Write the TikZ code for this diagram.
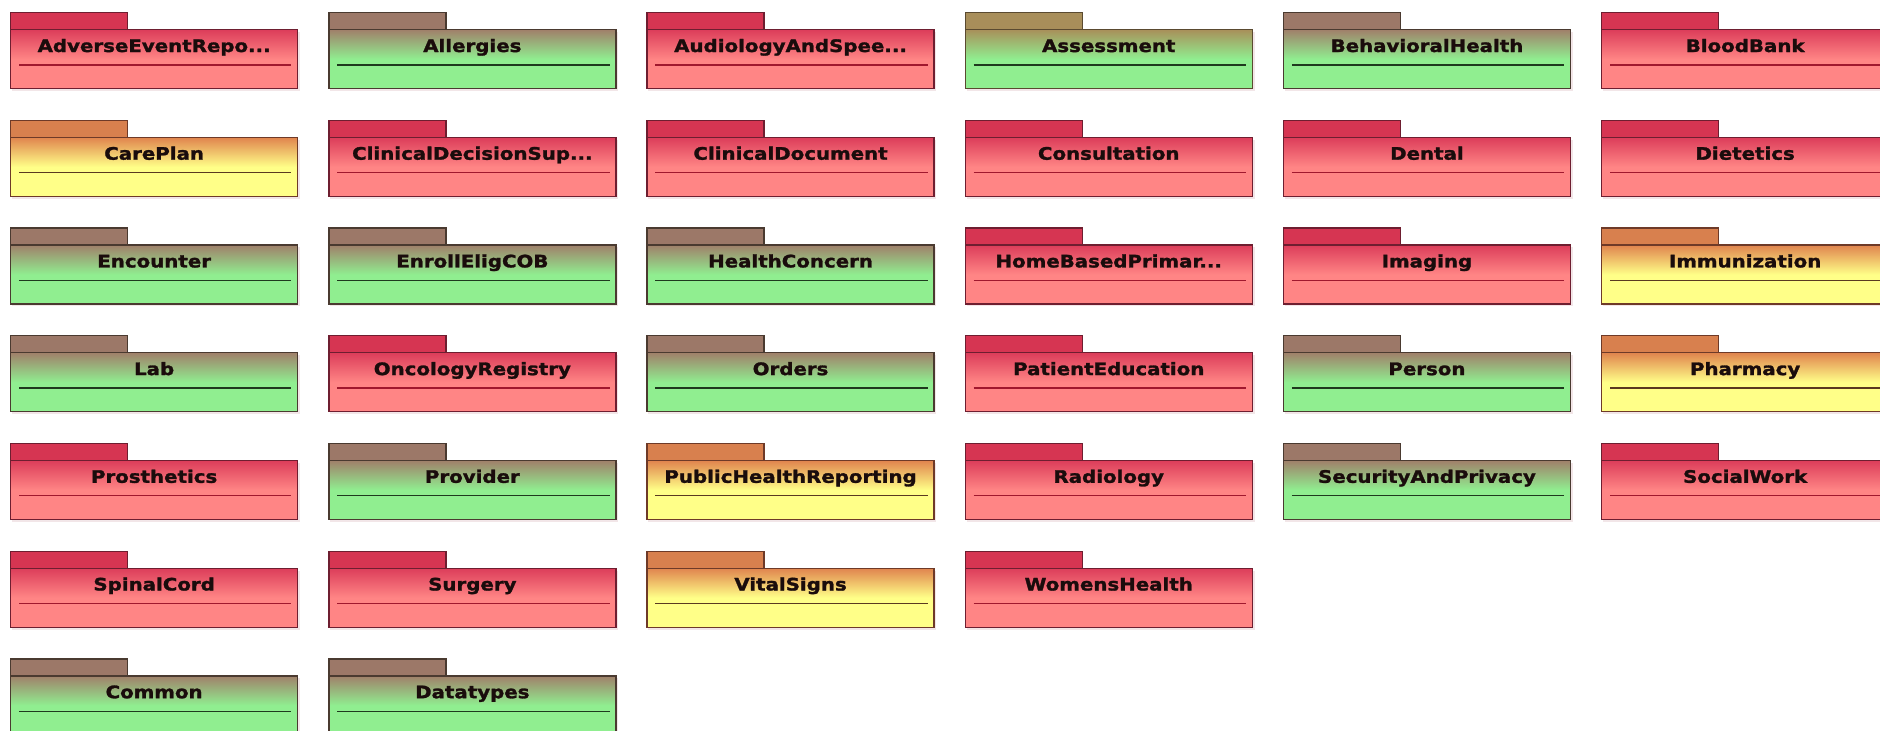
\documentclass[tikz,border=0pt]{standalone}
\usepackage{fontspec}
\newfontfamily\pkgfont{DejaVu Sans}[FakeStretch=1.15,FakeBold=1.6]
\definecolor{redtab}{HTML}{D63552}
\definecolor{redtop}{HTML}{DC3D5A}
\definecolor{redbot}{HTML}{FF8585}
\definecolor{redborder}{HTML}{6E1E30}
\definecolor{redline}{HTML}{A0182E}
\definecolor{greentab}{HTML}{9C7868}
\definecolor{greentop}{HTML}{A0806A}
\definecolor{greenbot}{HTML}{90EE90}
\definecolor{greenborder}{HTML}{4A3A30}
\definecolor{greenline}{HTML}{1E3A1E}
\definecolor{olivetab}{HTML}{A88E5A}
\definecolor{olivetop}{HTML}{A8905A}
\definecolor{olivebot}{HTML}{90EE90}
\definecolor{oliveborder}{HTML}{5A4A30}
\definecolor{oliveline}{HTML}{1E3A1E}
\definecolor{yellowtab}{HTML}{D8804E}
\definecolor{yellowtop}{HTML}{E0844E}
\definecolor{yellowbot}{HTML}{FFFF88}
\definecolor{yellowborder}{HTML}{6E3A28}
\definecolor{yellowline}{HTML}{5A3A20}
\definecolor{labeltext}{HTML}{1A0C0C}
\definecolor{shadowcol}{HTML}{F2E6E8}
\pgfdeclareverticalshading{redshade}{100bp}{color(0bp)=(redbot); color(50bp)=(redbot); color(75bp)=(redtop); color(100bp)=(redtop)}
\pgfdeclareverticalshading{greenshade}{100bp}{color(0bp)=(greenbot); color(50bp)=(greenbot); color(75bp)=(greentop); color(100bp)=(greentop)}
\pgfdeclareverticalshading{oliveshade}{100bp}{color(0bp)=(olivebot); color(50bp)=(olivebot); color(75bp)=(olivetop); color(100bp)=(olivetop)}
\pgfdeclareverticalshading{yellowshade}{100bp}{color(0bp)=(yellowbot); color(50bp)=(yellowbot); color(75bp)=(yellowtop); color(100bp)=(yellowtop)}
\tikzset{
  pkgtab/.style={rectangle, inner sep=0pt, minimum width=117pt, minimum height=17pt,
    fill=#1tab, draw=#1border, line width=1.3pt},
  pkgbody/.style={rectangle, inner sep=0pt, minimum width=287pt, minimum height=59pt,
    shading=#1shade, draw=#1border, line width=1.3pt},
  pkgline/.style={draw=#1line, line width=1.3pt},
  pkglabel/.style={inner sep=0pt, anchor=base, text=labeltext,
    font=\pkgfont\bfseries\fontsize{17.2}{20}\selectfont},
  pkgshadow/.style={fill=shadowcol, draw=none}
}
\newcommand\pkg[5]{%
  \pgfmathsetmacro\pkgx{10+318.2*#2}%
  \pgfmathsetmacro\pkgy{12+107.7*#3}%
  \fill[pkgshadow] (\pkgx+2,\pkgy+20) rectangle (\pkgx+290,\pkgy+79);
  \node[pkgtab=#4, anchor=north west] (#1-tab) at (\pkgx,\pkgy) {};
  \node[pkgbody=#4, anchor=north west] (#1) at (\pkgx,\pkgy+17) {};
  \coordinate (#1-l) at ([xshift=9pt,yshift=-36pt]#1.north west);
  \coordinate (#1-r) at ([xshift=-7pt,yshift=-36pt]#1.north east);
  \draw[pkgline=#4] (#1-l) -- (#1-r);
  \node[pkglabel] (#1-label) at ([yshift=-23pt]#1.north) {#5};
}
\begin{document}
\begin{tikzpicture}[x=1pt,y=-1pt]
\useasboundingbox (0,0) rectangle (1880,731);
\fill[white] (0,0) rectangle (1880,731);
\clip (0,0) rectangle (1880,731);
\pkg{p00}{0}{0}{red}{AdverseEventRepo...}
\pkg{p01}{1}{0}{green}{Allergies}
\pkg{p02}{2}{0}{red}{AudiologyAndSpee...}
\pkg{p03}{3}{0}{olive}{Assessment}
\pkg{p04}{4}{0}{green}{BehavioralHealth}
\pkg{p05}{5}{0}{red}{BloodBank}
\pkg{p10}{0}{1}{yellow}{CarePlan}
\pkg{p11}{1}{1}{red}{ClinicalDecisionSup...}
\pkg{p12}{2}{1}{red}{ClinicalDocument}
\pkg{p13}{3}{1}{red}{Consultation}
\pkg{p14}{4}{1}{red}{Dental}
\pkg{p15}{5}{1}{red}{Dietetics}
\pkg{p20}{0}{2}{green}{Encounter}
\pkg{p21}{1}{2}{green}{EnrollEligCOB}
\pkg{p22}{2}{2}{green}{HealthConcern}
\pkg{p23}{3}{2}{red}{HomeBasedPrimar...}
\pkg{p24}{4}{2}{red}{Imaging}
\pkg{p25}{5}{2}{yellow}{Immunization}
\pkg{p30}{0}{3}{green}{Lab}
\pkg{p31}{1}{3}{red}{OncologyRegistry}
\pkg{p32}{2}{3}{green}{Orders}
\pkg{p33}{3}{3}{red}{PatientEducation}
\pkg{p34}{4}{3}{green}{Person}
\pkg{p35}{5}{3}{yellow}{Pharmacy}
\pkg{p40}{0}{4}{red}{Prosthetics}
\pkg{p41}{1}{4}{green}{Provider}
\pkg{p42}{2}{4}{yellow}{PublicHealthReporting}
\pkg{p43}{3}{4}{red}{Radiology}
\pkg{p44}{4}{4}{green}{SecurityAndPrivacy}
\pkg{p45}{5}{4}{red}{SocialWork}
\pkg{p50}{0}{5}{red}{SpinalCord}
\pkg{p51}{1}{5}{red}{Surgery}
\pkg{p52}{2}{5}{yellow}{VitalSigns}
\pkg{p53}{3}{5}{red}{WomensHealth}
\pkg{p60}{0}{6}{green}{Common}
\pkg{p61}{1}{6}{green}{Datatypes}
\end{tikzpicture}
\end{document}
